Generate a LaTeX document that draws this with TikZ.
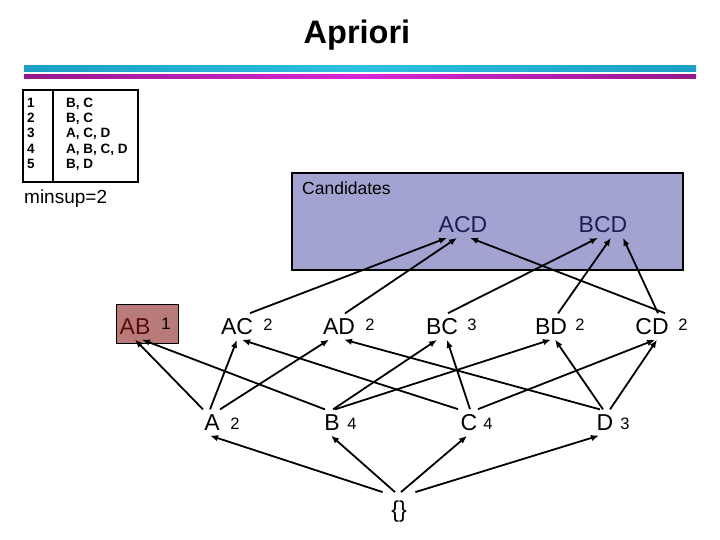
\documentclass[tikz,border=0pt]{standalone}
\usepackage{fontspec}
\setmainfont{Liberation Sans}
\usetikzlibrary{arrows.meta}
\definecolor{candfill}{RGB}{163,163,209}
\definecolor{candtext}{RGB}{30,30,85}
\definecolor{abfill}{RGB}{185,122,122}
\definecolor{abtext}{RGB}{90,10,10}
\definecolor{cyanA}{RGB}{28,158,196}
\definecolor{cyanB}{RGB}{45,192,222}
\definecolor{purA}{RGB}{150,24,140}
\definecolor{purB}{RGB}{214,40,214}
\begin{document}
\begin{tikzpicture}[x=1bp,y=-1bp,
  lbl/.style={inner xsep=4bp, inner ysep=5bp, font=\fontsize{23bp}{27bp}\selectfont},
  num/.style={inner sep=0pt, font=\fontsize{16.5bp}{20bp}\selectfont},
  arr/.style={line width=1.8bp, -{Latex[length=8bp,width=6.5bp]}},
  tbl/.style={inner sep=0pt, anchor=base west, font=\fontsize{13.5bp}{16bp}\selectfont\bfseries},
  frame/.style={draw, line width=1.3bp, inner sep=0pt}]
\useasboundingbox (0,0) rectangle (720,540);

% title and bars
\node[anchor=base, inner sep=0pt, font=\fontsize{32.5bp}{39bp}\selectfont\bfseries] (title) at (357,44) {Apriori};
\shade[left color=cyanA, right color=cyanA, middle color=cyanB] (24,66) rectangle (696,72);
\shade[left color=purA, right color=purA, middle color=purB] (24,75) rectangle (696,79);

% transaction table
\node[frame, minimum width=115bp, minimum height=92bp] (tbox) at (80.5,136) {};
\coordinate (dv) at (53,0);
\draw[line width=1.3bp] (dv |- tbox.north) -- (dv |- tbox.south);
\node[tbl] (n1) at (27,107.5) {1}; \node[tbl] (t1) at (66,107.5) {B, C};
\node[tbl] (n2) at (27,122.7) {2}; \node[tbl] (t2) at (66,122.7) {B, C};
\node[tbl] (n3) at (27,137.9) {3}; \node[tbl] (t3) at (66,137.9) {A, C, D};
\node[tbl] (n4) at (27,153.1) {4}; \node[tbl] (t4) at (66,153.1) {A, B, C, D};
\node[tbl] (n5) at (27,168.3) {5}; \node[tbl] (t5) at (66,168.3) {B, D};
\node[anchor=base west, inner sep=0pt, font=\fontsize{19bp}{23bp}\selectfont] (minsup) at (24,204) {minsup=2};

% candidates box
\node[frame, fill=candfill, minimum width=391bp, minimum height=97bp] (cand) at (487.5,221.5) {};
\node[anchor=base west, inner sep=0pt, font=\fontsize{17.5bp}{21bp}\selectfont] (candlbl) at (302,195) {Candidates};

% AB box
\node[draw, line width=0.8bp, fill=abfill, minimum width=62bp, minimum height=39bp, inner sep=0pt] (abbox) at (147.5,323.5) {};

% itemset labels
\node[lbl, text=candtext] (ACD) at (463,224.5) {ACD};
\node[lbl, text=candtext] (BCD) at (603,224.5) {BCD};

\node[lbl, text=abtext] (AB) at (135,326.5) {AB};
\node[num] (sAB) at (166,323.5) {1};
\node[lbl] (AC) at (237,326.5) {AC};
\node[num] (sAC) at (268,324.5) {2};
\node[lbl] (AD) at (339,326.5) {AD};
\node[num] (sAD) at (370,324.5) {2};
\node[lbl] (BC) at (442,326.5) {BC};
\node[num] (sBC) at (472,324.5) {3};
\node[lbl] (BD) at (551,326.5) {BD};
\node[num] (sBD) at (580,324.5) {2};
\node[lbl] (CD) at (652,326.5) {CD};
\node[num] (sCD) at (683,324.5) {2};

\node[lbl] (A) at (212,422.5) {A};
\node[num] (sA) at (235,423.5) {2};
\node[lbl] (B) at (332,422.5) {B};
\node[num] (sB) at (352,423.5) {4};
\node[lbl] (C) at (469,422.5) {C};
\node[num] (sC) at (488,423.5) {4};
\node[lbl] (D) at (605,422.5) {D};
\node[num] (sD) at (625,423.5) {3};

\node[inner xsep=8.5bp, inner ysep=9bp, font=\fontsize{23bp}{27bp}\selectfont] (E) at (399,512) {\{\}};

% empty set -> singletons
\draw[arr] (E.north west) -- ([xshift=-2bp]A.south);
\draw[arr] ([xshift=-4bp]E.north) -- ([xshift=-1bp]B.south);
\draw[arr] ([xshift=2bp]E.north) -- ([xshift=-2bp]C.south);
\draw[arr] (E.north east) -- ([xshift=-6bp]D.south);

% singletons -> pairs
\draw[arr] ([xshift=-9bp]A.north) -- (AB.south);
\draw[arr] ([xshift=-2bp]A.north) -- (AC.south);
\draw[arr] ([xshift=8bp]A.north) -- ([xshift=-10bp]AD.south);
\draw[arr] ([xshift=-7bp]B.north) -- ([xshift=7bp]AB.south);
\draw[arr] ([xshift=1bp]B.north) -- ([xshift=-5bp]BC.south);
\draw[arr] ([xshift=3bp]B.north) -- (BD.south);
\draw[arr] ([xshift=-11bp]C.north) -- ([xshift=5bp]AC.south);
\draw[arr] ([xshift=1bp]C.north) -- ([xshift=5bp]BC.south);
\draw[arr] ([xshift=9bp]C.north) -- ([xshift=3bp]CD.south);
\draw[arr] ([xshift=-5bp]D.north) -- ([xshift=5bp]AD.south);
\draw[arr] ([xshift=-2bp]D.north) -- ([xshift=4bp]BD.south);
\draw[arr] ([xshift=5bp]D.north) -- ([xshift=5bp]CD.south);

% pairs -> triples
\draw[arr] ([xshift=13bp]AC.north) -- ([xshift=-16bp]ACD.south);
\draw[arr] ([xshift=6bp]AD.north) -- ([xshift=-6bp]ACD.south);
\draw[arr] ([xshift=13bp]CD.north) -- ([xshift=7bp]ACD.south);
\draw[arr] ([xshift=6bp]BC.north) -- ([xshift=-5bp]BCD.south);
\draw[arr] ([xshift=7bp]BD.north) -- ([xshift=8bp]BCD.south);
\draw[arr] ([xshift=6bp]CD.north) -- ([xshift=20bp]BCD.south);
\end{tikzpicture}
\end{document}
